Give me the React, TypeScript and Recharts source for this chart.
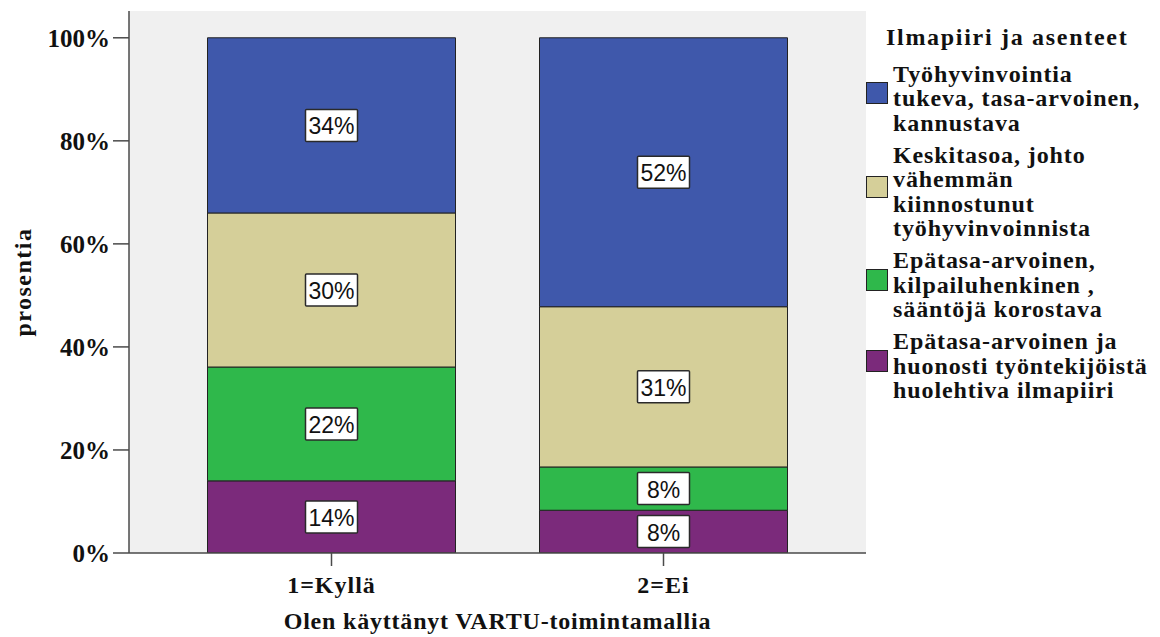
import React from 'react'
import { BarChart, Bar, XAxis, YAxis, CartesianGrid, LabelList } from 'recharts'

const categories = ['1=Kyllä', '2=Ei']

// stacked bottom to top
const huonoValues = [14.0, 8.3]
const kilpailuValues = [22.1, 8.4]
const keskitasoValues = [29.9, 31.1]
const tukevaValues = [34.0, 52.2]

const yTicks = [0, 20, 40, 60, 80, 100]

const legendTitle = 'Ilmapiiri ja asenteet'
const seriesNames = {
  tukeva: 'Työhyvinvointia\ntukeva, tasa-arvoinen,\nkannustava',
  keskitaso: 'Keskitasoa, johto\nvähemmän\nkiinnostunut\ntyöhyvinvoinnista',
  kilpailu: 'Epätasa-arvoinen,\nkilpailuhenkinen ,\nsääntöjä korostava',
  huono: 'Epätasa-arvoinen ja\nhuonosti työntekijöistä\nhuolehtiva ilmapiiri',
}

const colors = {
  tukeva: '#3f58ab',
  keskitaso: '#d5cf99',
  kilpailu: '#2fb84b',
  huono: '#7b2a7b',
}

const SERIF = '"Liberation Serif", "Times New Roman", serif'
const SANS = '"Liberation Sans", Arial, sans-serif'
const FRAME = '#4a4a4a'

const data = categories.map((name, i) => ({
  name,
  huono: huonoValues[i],
  kilpailu: kilpailuValues[i],
  keskitaso: keskitasoValues[i],
  tukeva: tukevaValues[i],
}))

// legend lists top series first
const legendOrder: (keyof typeof colors)[] = ['tukeva', 'keskitaso', 'kilpailu', 'huono']
const stackOrder: (keyof typeof colors)[] = ['huono', 'kilpailu', 'keskitaso', 'tukeva']

function ValueBox(props: any) {
  const { x, y, width, height, value } = props
  const cx = x + width / 2
  const cy = y + height / 2
  const w = 52
  const h = 32
  return (
    <g>
      <rect x={cx - w / 2} y={cy - h / 2} width={w} height={h} rx={1} fill="#fff" stroke="#2a2a2a" strokeWidth={1.5} />
      <text x={cx} y={cy + 1} textAnchor="middle" dominantBaseline="central" fontFamily={SANS} fontSize={23} fill="#111">
        {`${Math.round(value)}%`}
      </text>
    </g>
  )
}

function XTitle(props: any) {
  const { viewBox } = props
  return (
    <text
      x={viewBox.x + viewBox.width / 2}
      y={629}
      textAnchor="middle"
      fontFamily={SERIF}
      fontWeight="bold"
      fontSize={24}
      letterSpacing={0.8}
      fill="#111"
    >
      Olen käyttänyt VARTU-toimintamallia
    </text>
  )
}

function YTitle() {
  return (
    <text
      x={31}
      y={282}
      transform="rotate(-90 31 282)"
      textAnchor="middle"
      fontFamily={SERIF}
      fontWeight="bold"
      fontSize={24}
      letterSpacing={1.5}
      fill="#111"
    >
      prosentia
    </text>
  )
}

function ChartLegend() {
  return (
    <div
      style={{
        position: 'absolute',
        left: 866,
        top: 25,
        width: 294,
        fontFamily: SERIF,
        fontWeight: 'bold',
        fontSize: 24,
        lineHeight: '24.5px',
        color: '#111',
        letterSpacing: 0.9,
      }}
    >
      <div style={{ paddingLeft: 20, letterSpacing: 1.7 }}>{legendTitle}</div>
      {legendOrder.map((key, i) => (
        <div key={key} style={{ display: 'flex', alignItems: 'center', marginTop: i === 0 ? 12 : 7.5 }}>
          <div
            style={{
              width: 22,
              height: 22,
              boxSizing: 'border-box',
              background: colors[key],
              border: '1px solid #222',
              marginRight: 5,
              flexShrink: 0,
              position: 'relative',
              top: -5,
            }}
          />
          <div style={{ whiteSpace: 'pre' }}>{seriesNames[key]}</div>
        </div>
      ))}
    </div>
  )
}

export default function App() {
  return (
    <div style={{ position: 'absolute', left: 0, top: 0, width: 1160, height: 637, background: '#fff' }}>
      <BarChart width={1160} height={637} data={data} margin={{ top: 11, right: 294, bottom: 0, left: 0 }}>
        <CartesianGrid fill="#f0f0f0" horizontal={false} vertical={false} />
        <XAxis
          dataKey="name"
          height={84}
          padding={{ left: 36.5, right: 36.5 }}
          axisLine={{ stroke: FRAME, strokeWidth: 1.5 }}
          tickLine={{ stroke: FRAME, strokeWidth: 1.5 }}
          tickSize={13}
          tickMargin={10}
          tick={{ fill: '#111', fontFamily: SERIF, fontWeight: 'bold', fontSize: 24, letterSpacing: 1 }}
          label={<XTitle />}
        />
        <XAxis
          xAxisId="top"
          dataKey="name"
          orientation="top"
          height={0}
          tick={false}
          tickLine={false}
          axisLine={{ stroke: FRAME, strokeWidth: 1.5 }}
        />
        <YAxis
          width={129}
          domain={[0, 105.2]}
          ticks={yTicks}
          allowDataOverflow
          tickFormatter={(v: number) => `${v}%`}
          axisLine={{ stroke: FRAME, strokeWidth: 1.5 }}
          tickLine={{ stroke: FRAME, strokeWidth: 1.5 }}
          tickSize={16}
          tickMargin={3}
          tick={{ fill: '#111', fontFamily: SERIF, fontWeight: 'bold', fontSize: 25 }}
        />
        <YAxis
          yAxisId="right"
          orientation="right"
          width={0}
          domain={[0, 105.2]}
          tick={false}
          tickLine={false}
          axisLine={{ stroke: FRAME, strokeWidth: 1.5 }}
        />
        {stackOrder.map((key) => (
          <Bar
            key={key}
            dataKey={key}
            stackId="a"
            fill={colors[key]}
            stroke="#222"
            strokeWidth={1}
            barSize={248}
            isAnimationActive={false}
          >
            <LabelList dataKey={key} content={<ValueBox />} />
          </Bar>
        ))}
        <YTitle />
      </BarChart>
      <ChartLegend />
    </div>
  )
}
